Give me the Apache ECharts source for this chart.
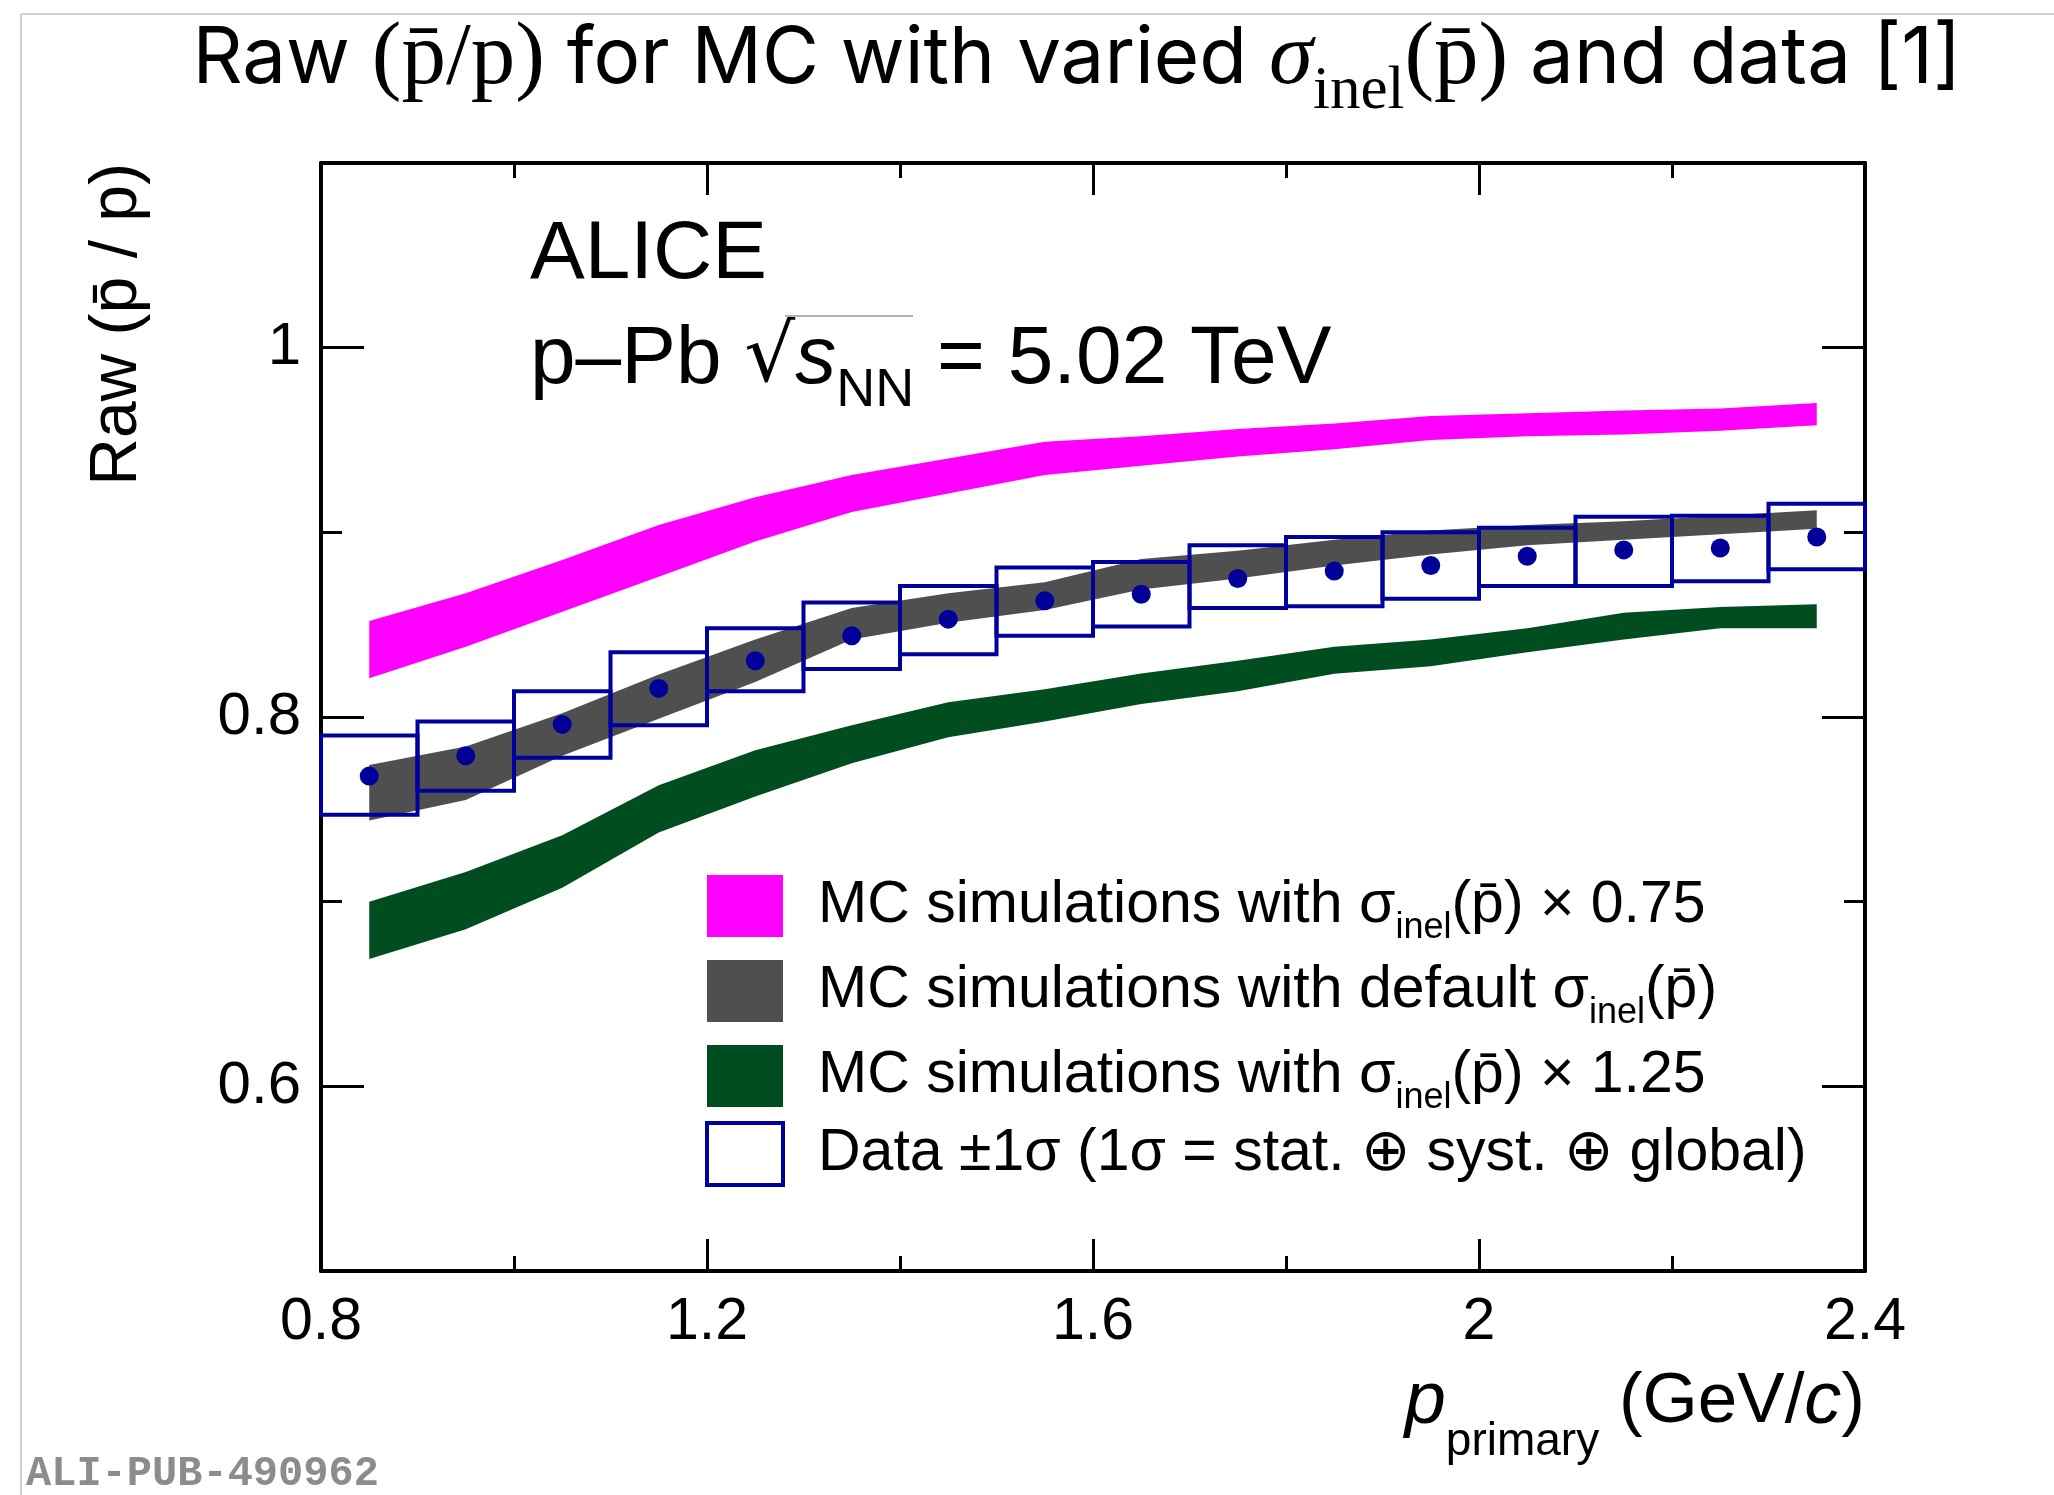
<!DOCTYPE html>
<html>
<head>
<meta charset="utf-8">
<script src="https://cdn.jsdelivr.net/npm/echarts@6/dist/echarts.min.js"></script>
<style>
html,body{margin:0;padding:0;background:#fff;}
#chart{width:2054px;height:1495px;}
</style>
</head>
<body>
<div id="chart"></div>
<script>
// ---- data ----
const pCenters = [0.85,0.95,1.05,1.15,1.25,1.35,1.45,1.55,1.65,1.75,1.85,1.95,2.05,2.15,2.25,2.35];
const binWidth = 0.1;

// MC sigma_inel x 0.75 (band low / high)
const mc075Low  = [0.821,0.838,0.857,0.876,0.895,0.911,0.921,0.931,0.936,0.941,0.945,0.950,0.952,0.953,0.955,0.958];
const mc075High = [0.852,0.867,0.885,0.904,0.919,0.931,0.940,0.949,0.952,0.956,0.959,0.963,0.9645,0.966,0.967,0.970];

// MC default sigma_inel
const mcDefLow  = [0.744,0.755,0.779,0.799,0.819,0.842,0.851,0.858,0.869,0.875,0.882,0.888,0.893,0.896,0.899,0.902];
const mcDefHigh = [0.774,0.784,0.802,0.823,0.842,0.859,0.867,0.873,0.8855,0.890,0.896,0.901,0.904,0.906,0.909,0.912];

// MC sigma_inel x 1.25
const mc125Low  = [0.669,0.685,0.7075,0.7375,0.757,0.775,0.789,0.7975,0.807,0.814,0.8234,0.8275,0.835,0.842,0.848,0.848];
const mc125High = [0.700,0.716,0.736,0.763,0.782,0.7955,0.808,0.815,0.8235,0.8305,0.838,0.842,0.848,0.8565,0.8596,0.861];

// Data points and +-1 sigma boxes
const dataVal  = [0.768,0.779,0.796,0.8155,0.8305,0.844,0.853,0.863,0.8665,0.875,0.879,0.882,0.887,0.8905,0.8915,0.8975];
const dataLow  = [0.747,0.760,0.778,0.7955,0.814,0.826,0.834,0.844,0.849,0.859,0.860,0.864,0.871,0.871,0.8735,0.880];
const dataHigh = [0.790,0.7975,0.814,0.835,0.848,0.862,0.871,0.881,0.884,0.893,0.8975,0.900,0.9025,0.9085,0.909,0.9155];

const xTicks = [0.8,1.2,1.6,2.0,2.4];
const yTickLabels = [0.6,0.8,1.0];
const yMinorTicks = [0.5,0.6,0.7,0.8,0.9,1.0,1.1];

// ---- styles ----
const C_MAG = '#ff00ff', C_GREY = '#4f4f4f', C_GREEN = '#004d1f', C_BLUE = '#00009c';
const SANS = '"Liberation Sans", Arial, sans-serif';
const PBAR = 'p\u0304';

function bandSeries(name, lo, hi, color) {
  return {
    type: 'custom', name: name, coordinateSystem: 'cartesian2d',
    data: pCenters.map((x, i) => [x, lo[i], hi[i]]),
    encode: { x: 0, y: [1, 2] },
    itemStyle: { color: color },
    silent: true, z: 2,
    renderItem: function (params, api) {
      if (params.dataIndex !== 0) return null;
      const top = pCenters.map((x, i) => api.coord([x, hi[i]]));
      const bot = pCenters.map((x, i) => api.coord([x, lo[i]])).reverse();
      return { type: 'polygon', shape: { points: top.concat(bot) }, style: { fill: color } };
    }
  };
}

const chart = echarts.init(document.getElementById('chart'), null, { renderer: 'canvas' });

const axisLine = { show: true, lineStyle: { color: '#000', width: 4 } };
const xAxisBase = {
  type: 'value', min: 0.8, max: 2.4, interval: 0.4,
  axisLine: axisLine,
  axisTick: { show: true, inside: true, length: 32, lineStyle: { color: '#000', width: 3 } },
  minorTick: { show: true, splitNumber: 2, length: 15, lineStyle: { color: '#000', width: 3 } },
  splitLine: { show: false }, minorSplitLine: { show: false }
};
function yAxisShort(pos) {
  return {
    type: 'value', position: pos, min: 0.5, max: 1.1, interval: 0.1,
    axisLine: axisLine,
    axisTick: { show: true, inside: true, length: 21, customValues: yMinorTicks, lineStyle: { color: '#000', width: 3 } },
    axisLabel: { show: false }, splitLine: { show: false }
  };
}
function yAxisLong(pos, labels) {
  return {
    type: 'value', position: pos, min: 0.5, max: 1.1, interval: 0.1,
    axisLine: { show: false },
    axisTick: { show: true, inside: true, length: 43, customValues: yTickLabels, lineStyle: { color: '#000', width: 3 } },
    axisLabel: labels ? {
      show: true, customValues: yTickLabels, margin: 20,
      fontFamily: SANS, fontSize: 60, color: '#000',
      formatter: v => String(Math.round(v * 10) / 10)
    } : { show: false },
    splitLine: { show: false }
  };
}

const legendRich = {
  a: { fontFamily: SANS, fontSize: 59, color: '#000', lineHeight: 80 },
  a0: { fontFamily: SANS, fontSize: 59, color: '#000', lineHeight: 80, padding: [0, 0, 0, 30] },
  sub: { fontFamily: SANS, fontSize: 36, color: '#000', lineHeight: 16, padding: [44, 0, 0, 0] }
};
const legendText = {
  mc075: '{a0|MC simulations with σ}{sub|inel}{a|(' + PBAR + ') × 0.75}',
  mcdef: '{a0|MC simulations with default σ}{sub|inel}{a|(' + PBAR + ')}',
  mc125: '{a0|MC simulations with σ}{sub|inel}{a|(' + PBAR + ') × 1.25}',
  data:  '{a0|Data ±1σ (1σ = stat. ⊕ syst. ⊕ global)}'
};

const option = {
  backgroundColor: '#fff',
  animation: false,
  grid: { left: 321, top: 163, width: 1544, height: 1108, containLabel: false },
  xAxis: [
    Object.assign({}, xAxisBase, {
      position: 'bottom',
      axisLabel: { show: true, margin: 22, fontFamily: SANS, fontSize: 59, color: '#000',
        customValues: xTicks, formatter: v => String(Math.round(v * 10) / 10) }
    }),
    Object.assign({}, xAxisBase, { position: 'top', axisLabel: { show: false } })
  ],
  yAxis: [yAxisShort('left'), yAxisLong('left', true), yAxisShort('right'), yAxisLong('right', false)],
  legend: {
    orient: 'vertical', left: 700, top: 861,
    itemWidth: 76, itemHeight: 62, itemGap: 5,
    selectedMode: false,
    textStyle: { fontFamily: SANS, fontSize: 59, color: '#000', rich: legendRich },
    formatter: name => legendText[name],
    data: [
      { name: 'mc075', icon: 'rect', itemStyle: { color: C_MAG } },
      { name: 'mcdef', icon: 'rect', itemStyle: { color: C_GREY } },
      { name: 'mc125', icon: 'rect', itemStyle: { color: C_GREEN } },
      { name: 'data', icon: 'rect', itemStyle: { color: '#fff', borderColor: C_BLUE, borderWidth: 4 } }
    ]
  },
  series: [
    bandSeries('mc075', mc075Low, mc075High, C_MAG),
    bandSeries('mcdef', mcDefLow, mcDefHigh, C_GREY),
    bandSeries('mc125', mc125Low, mc125High, C_GREEN),
    {
      type: 'custom', name: 'data', coordinateSystem: 'cartesian2d', z: 3, silent: true,
      data: pCenters.map((x, i) => [x, dataLow[i], dataHigh[i]]),
      encode: { x: 0, y: [1, 2] },
      itemStyle: { color: C_BLUE },
      renderItem: function (params, api) {
        const x = api.value(0), lo = api.value(1), hi = api.value(2);
        const a = api.coord([x - binWidth / 2, hi]);
        const b = api.coord([x + binWidth / 2, lo]);
        return { type: 'rect', shape: { x: a[0], y: a[1], width: b[0] - a[0], height: b[1] - a[1] },
          style: { fill: 'none', stroke: C_BLUE, lineWidth: 4 } };
      }
    },
    {
      type: 'scatter', name: 'points', z: 4, silent: true,
      data: pCenters.map((x, i) => [x, dataVal[i]]),
      symbol: 'circle', symbolSize: 19,
      itemStyle: { color: '#000099', opacity: 1 }
    }
  ],
  graphic: [
    { type: 'line', silent: true, shape: { x1: 21, y1: 14, x2: 2054, y2: 14 }, style: { stroke: '#cfcfcf', lineWidth: 2 } },
    { type: 'line', silent: true, shape: { x1: 21, y1: 14, x2: 21, y2: 1495 }, style: { stroke: '#cfcfcf', lineWidth: 2 } },
    { type: 'text', silent: true, x: 1077, y: 60,
      style: {
        text: '{s|Raw }{m|(' + PBAR + '/p)}{s| for MC with varied }{g|σ}{sub|inel}{m|(' + PBAR + ')}{s| and data [1]}',
        align: 'center', verticalAlign: 'middle', textAlign: 'center', textVerticalAlign: 'middle',
        rich: {
          s: { fontFamily: 'Inter, "Noto Sans", sans-serif', fontSize: 78, color: '#000', lineHeight: 90 },
          m: { fontFamily: '"Liberation Serif", serif', fontSize: 89, color: '#000', lineHeight: 90 },
          g: { fontFamily: '"Liberation Serif", serif', fontStyle: 'italic', fontSize: 89, color: '#000', lineHeight: 90 },
          sub: { fontFamily: '"Liberation Serif", serif', fontSize: 61, color: '#000', lineHeight: 20, padding: [64, 0, 0, 0] }
        }
      } },
    { type: 'text', silent: true, x: 530, y: 255,
      style: { text: 'ALICE', fontFamily: SANS, fontSize: 82, fill: '#000', verticalAlign: 'middle', textVerticalAlign: 'middle' } },
    { type: 'text', silent: true, x: 530, y: 360,
      style: {
        text: '{a|p–Pb }{r|√}{i|s}{sub|NN}{a| = 5.02 TeV}',
        verticalAlign: 'middle', textVerticalAlign: 'middle',
        rich: {
          a: { fontFamily: SANS, fontSize: 82, color: '#000', lineHeight: 90 },
          r: { fontFamily: '"DejaVu Sans", sans-serif', fontSize: 80, color: '#000', lineHeight: 90 },
          i: { fontFamily: SANS, fontStyle: 'italic', fontSize: 82, color: '#000', lineHeight: 90 },
          sub: { fontFamily: SANS, fontSize: 54, color: '#000', lineHeight: 20, padding: [62, 0, 0, 0] }
        }
      } },
    { type: 'line', silent: true, shape: { x1: 785, y1: 316, x2: 913, y2: 316 }, style: { stroke: '#b4b4b4', lineWidth: 2 } },
    { type: 'text', silent: true, x: 118, y: 163, rotation: Math.PI / 2,
      style: { text: 'Raw (' + PBAR + ' / p)', fontFamily: SANS, fontSize: 66, fill: '#000',
        align: 'right', verticalAlign: 'middle', textAlign: 'right', textVerticalAlign: 'middle' } },
    { type: 'text', silent: true, x: 1865, y: 1402,
      style: {
        text: '{i|p}{sub|primary}{a| (GeV/}{i|c}{a|)}',
        align: 'right', verticalAlign: 'middle', textAlign: 'right', textVerticalAlign: 'middle',
        rich: {
          a: { fontFamily: SANS, fontSize: 71, color: '#000', lineHeight: 80 },
          i: { fontFamily: SANS, fontStyle: 'italic', fontSize: 74, color: '#000', lineHeight: 80 },
          sub: { fontFamily: SANS, fontSize: 46, color: '#000', lineHeight: 20, padding: [80, 0, 0, 0] }
        }
      } },
    { type: 'text', silent: true, x: 26, y: 1474,
      style: { text: 'ALI-PUB-490962', fontFamily: '"Liberation Mono", monospace', fontWeight: 'bold',
        fontSize: 42, fill: '#8c8c8c', verticalAlign: 'middle', textVerticalAlign: 'middle' } }
  ]
};
chart.setOption(option);
</script>
</body>
</html>
